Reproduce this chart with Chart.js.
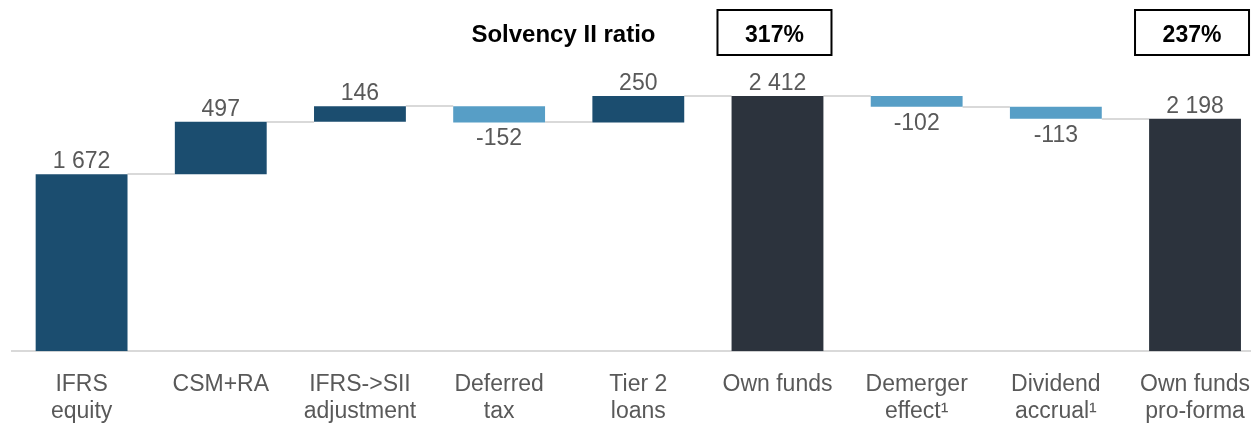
<!DOCTYPE html>
<html>
<head>
<meta charset="utf-8">
<script src="https://cdn.jsdelivr.net/npm/chart.js@4.4.1/dist/chart.umd.min.js"></script>
<style>
  html, body { margin: 0; padding: 0; background: #fff; overflow: hidden; }
  #wrap { position: relative; width: 1270px; height: 445px; }
</style>
</head>
<body>
<div id="wrap"><canvas id="own-funds-bridge"></canvas></div>
<script>
/* Own funds bridge: IFRS equity -> Solvency II own funds -> pro-forma */

const categories = [
  ['IFRS', 'equity'], ['CSM+RA'], ['IFRS->SII', 'adjustment'], ['Deferred', 'tax'],
  ['Tier 2', 'loans'], ['Own funds'], ['Demerger', 'effect¹'], ['Dividend', 'accrual¹'],
  ['Own funds', 'pro-forma'],
];
// 'start' and 'total' bars stand on zero, 'step' bars float on the running sum
const barKinds = ['start', 'step', 'step', 'step', 'step', 'total', 'step', 'step', 'total'];
const amounts  = [1672, 497, 146, -152, 250, 2412, -102, -113, 2198];

const ratioCategories = [5, 8];          // indices of the bars carrying a ratio box
const ratioLabels = ['317%', '237%'];
const ratioTitle = 'Solvency II ratio';

const COL_UP = '#1b4d6f', COL_DOWN = '#579ec6', COL_TOTAL = '#2c333d';
const TXT = '#595959', LINE = '#d9d9d9';
const FONT = '"Liberation Sans", Arial, sans-serif';

// running sum -> floating [from, to] pairs
const ranges = [];
const levels = [];
let run = 0;
amounts.forEach((v, i) => {
  if (barKinds[i] === 'step') { ranges.push([run, run + v]); run += v; }
  else { ranges.push([0, v]); run = v; }
  levels.push(run);
});
const barColors = amounts.map((v, i) =>
  barKinds[i] === 'total' ? COL_TOTAL : (v < 0 ? COL_DOWN : COL_UP));

const fmt = v => (v < 0 ? '-' : '') + String(Math.abs(v)).replace(/\B(?=(\d{3})+(?!\d))/g, ' ');

const bridgeExtras = {
  id: 'bridgeExtras',
  beforeDatasetsDraw(chart) {
    const { ctx } = chart;
    const y = chart.scales.y;
    const bars = chart.getDatasetMeta(0).data;
    ctx.save();
    ctx.strokeStyle = LINE;
    ctx.lineWidth = 2;
    for (let i = 0; i < bars.length - 1; i++) {
      const py = Math.round(y.getPixelForValue(levels[i]));
      ctx.beginPath();
      ctx.moveTo(bars[i].x + bars[i].width / 2, py);
      ctx.lineTo(bars[i + 1].x - bars[i + 1].width / 2, py);
      ctx.stroke();
    }
    ctx.restore();
  },
  afterDatasetsDraw(chart) {
    const { ctx } = chart;
    const bars = chart.getDatasetMeta(0).data;
    ctx.save();
    ctx.font = '23px ' + FONT;
    ctx.fillStyle = TXT;
    ctx.textAlign = 'center';
    ctx.textBaseline = 'alphabetic';
    bars.forEach((b, i) => {
      const top = Math.min(b.y, b.base), bottom = Math.max(b.y, b.base);
      if (amounts[i] < 0) ctx.fillText(fmt(amounts[i]), b.x, bottom + 23);
      else ctx.fillText(fmt(amounts[i]), b.x, top - 6);
    });

    // ratio boxes above the own funds bars
    ctx.fillStyle = '#000';
    ctx.strokeStyle = '#000';
    ctx.lineWidth = 2;
    ratioCategories.forEach((idx, k) => {
      const cx = bars[idx].x - 3;
      ctx.strokeRect(cx - 57, 10, 114, 45);
      ctx.font = 'bold 23px ' + FONT;
      ctx.textAlign = 'center';
      ctx.fillText(ratioLabels[k], cx, 42);
      if (k === 0) {
        ctx.font = 'bold 24px ' + FONT;
        ctx.textAlign = 'right';
        ctx.fillText(ratioTitle, cx - 57 - 62, 42);
      }
    });
    ctx.restore();
  },
};

new Chart(document.getElementById('own-funds-bridge'), {
  type: 'bar',
  data: {
    labels: categories,
    datasets: [{
      data: ranges,
      backgroundColor: barColors,
      borderWidth: 0,
      categoryPercentage: 1,
      barPercentage: 0.66,
    }],
  },
  options: {
    responsive: true, maintainAspectRatio: false,
    animation: false,
    layout: { padding: { left: 12, right: 0, top: 0, bottom: 0 } },
    plugins: { legend: { display: false }, tooltip: { enabled: false } },
    scales: {
      x: {
        grid: { display: false, drawTicks: false },
        border: { color: LINE, width: 2 },
        ticks: {
          color: TXT, padding: 20, maxRotation: 0, autoSkip: false,
          font: { family: FONT, size: 23, lineHeight: 1.17 },
        },
      },
      y: { display: false, min: 0, max: 3320 },
    },
  },
  plugins: [bridgeExtras],
});
</script>
</body>
</html>
